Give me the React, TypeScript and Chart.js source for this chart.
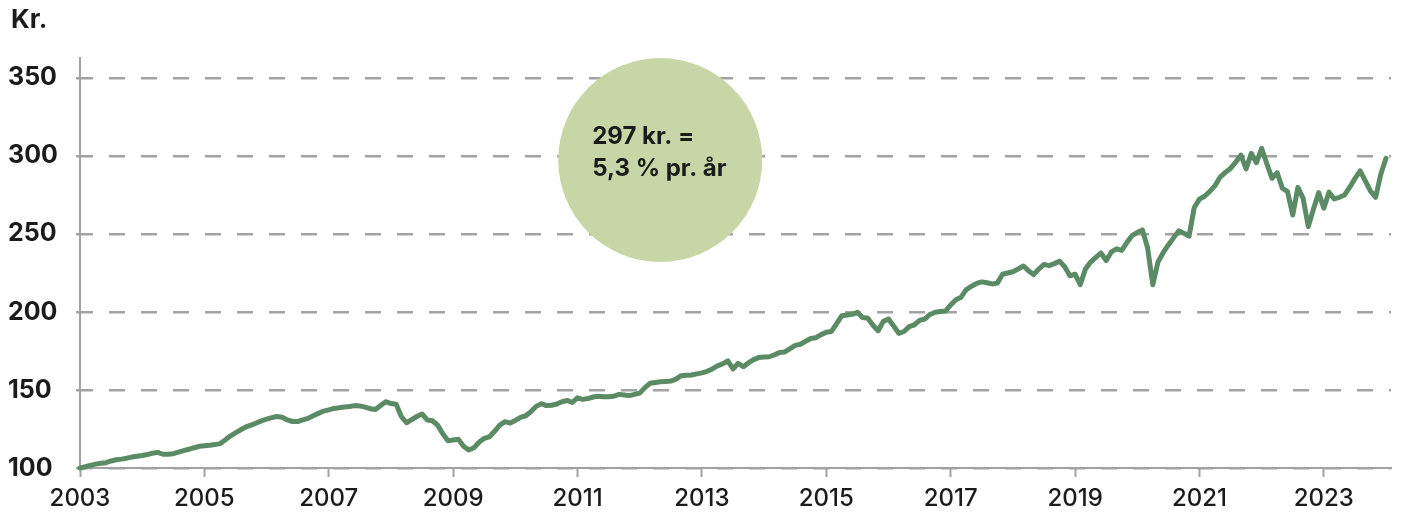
import React, { useEffect, useRef } from 'react';
import { Chart, registerables } from 'chart.js';

Chart.register(...registerables);

// Monthly index value (kr.), starting January 2003
const startYear = 2003;
const v2003 = [100, 100.8, 101.7, 102.5, 103, 103.4, 104.5, 105.3, 105.7, 106.3, 107, 107.5];
const v2004 = [108, 108.6, 109.5, 110, 108.8, 108.8, 109.2, 110.2, 111.1, 112, 113, 113.9];
const v2005 = [114.3, 114.6, 115, 115.6, 118, 120.5, 122.5, 124.5, 126.3, 127.5, 128.8, 130.2];
const v2006 = [131.3, 132.3, 133, 132.5, 130.8, 129.8, 129.8, 130.8, 131.8, 133.5, 135, 136.5];
const v2007 = [137.3, 138.2, 138.6, 139.1, 139.4, 140, 139.8, 139, 138, 137.5, 140, 142.5];
const v2008 = [141.3, 140.8, 133, 129, 131, 133, 134.6, 130.8, 130.3, 127.5, 122, 117.5];
const v2009 = [118, 118.4, 114, 111.5, 113, 116.5, 119, 120, 123.5, 127.5, 129.7, 128.8];
const v2010 = [130.5, 132.5, 133.5, 136, 139.5, 141.2, 140, 140.2, 141, 142.5, 143.3, 142];
const v2011 = [145, 144, 144.5, 145.5, 146, 145.7, 145.7, 146, 147.2, 146.8, 146.4, 147.2];
const v2012 = [148, 151.5, 154.3, 154.8, 155.3, 155.5, 155.7, 157, 159.2, 159.4, 159.6, 160.3];
const v2013 = [161, 162, 163.5, 165.5, 166.7, 168.6, 163.5, 167.1, 164.9, 167.5, 169.5, 170.9];
const v2014 = [171.1, 171.3, 172.5, 174, 174.4, 176.5, 178.6, 179.3, 181.2, 183, 183.5, 185.5];
const v2015 = [187, 187.5, 192.5, 197.6, 198.1, 198.5, 199.8, 196.4, 196, 191.5, 188, 194];
const v2016 = [195.5, 191, 186.3, 187.5, 190.6, 191.8, 194.6, 195.5, 198.4, 199.8, 200.3, 200.6];
const v2017 = [204.5, 207.8, 209.5, 214.3, 216.5, 218.3, 219.3, 218.7, 218, 218.5, 224.2, 225];
const v2018 = [225.8, 227.5, 229.5, 226.5, 224, 227.5, 230.5, 229.7, 231, 232.6, 229, 223.2];
const v2019 = [224.2, 217.5, 227.5, 232, 235, 237.8, 233, 238.5, 240.5, 239.5, 244.5, 249];
const v2020 = [251, 252.6, 241, 217.5, 232, 238, 243, 247.5, 252, 250.5, 248.7, 267];
const v2021 = [272.3, 274.2, 277.3, 281, 286.5, 289.5, 292, 296, 300.6, 291.7, 301.7, 295.7];
const v2022 = [304.9, 295, 285.7, 289.3, 279.3, 277.1, 262.2, 279.9, 272.9, 254.7, 266, 276.5];
const v2023 = [266.5, 276.8, 272.5, 273.5, 275, 280, 285.5, 290.5, 284, 277.5, 273.5, 288.5];
const v2024 = [298.5];

const values = [
  ...v2003, ...v2004, ...v2005, ...v2006, ...v2007, ...v2008, ...v2009,
  ...v2010, ...v2011, ...v2012, ...v2013, ...v2014, ...v2015, ...v2016,
  ...v2017, ...v2018, ...v2019, ...v2020, ...v2021, ...v2022, ...v2023, ...v2024,
];

const xTickYears = [2003, 2005, 2007, 2009, 2011, 2013, 2015, 2017, 2019, 2021, 2023];
const yTickValues = [100, 150, 200, 250, 300, 350];
const yAxisTitle = 'Kr.';
const calloutLines = ['297 kr. =', '5,3 % pr. år'];
const calloutCenter = { x: 2012.33, y: 297.4 };

const LINE = '#5b8b64';
const GRID = '#a2a2a2';
const TEXT = '#1b1b1b';
const CIRCLE = '#c8d5a6';
const FONT = 'Inter, "Noto Sans", sans-serif';

const calloutPlugin = {
  id: 'callout',
  beforeDatasetsDraw(chart: any) {
    const { ctx, scales } = chart;
    const cx = scales.x.getPixelForValue(calloutCenter.x);
    const cy = scales.y.getPixelForValue(calloutCenter.y);
    ctx.save();
    ctx.fillStyle = CIRCLE;
    ctx.beginPath();
    ctx.arc(cx, cy, 102, 0, Math.PI * 2);
    ctx.fill();
    ctx.fillStyle = TEXT;
    ctx.font = `700 24px ${FONT}`;
    ctx.textAlign = 'left';
    ctx.textBaseline = 'alphabetic';
    ctx.fillText(calloutLines[0], cx - 68, cy - 16);
    ctx.fillText(calloutLines[1], cx - 68, cy + 16);
    ctx.restore();
  },
  afterDraw(chart: any) {
    const { ctx } = chart;
    ctx.save();
    ctx.fillStyle = TEXT;
    ctx.font = `700 26px ${FONT}`;
    ctx.textAlign = 'left';
    ctx.textBaseline = 'alphabetic';
    ctx.fillText(yAxisTitle, 3, 20);
    ctx.restore();
  },
};

export default function App() {
  const ref = useRef<HTMLCanvasElement>(null);
  useEffect(() => {
    const points = values.map((v, i) => ({ x: startYear + i / 12, y: v }));
    const chart = new Chart(ref.current as HTMLCanvasElement, {
      type: 'line',
      data: {
        datasets: [
          {
            data: points,
            borderColor: LINE,
            borderWidth: 5,
            pointRadius: 0,
            tension: 0,
            clip: false,
            borderJoinStyle: 'round',
            borderCapStyle: 'round',
          } as any,
        ],
      },
      options: {
        responsive: false,
        animation: false,
        layout: { padding: { top: 50, right: 4, left: 0, bottom: 0 } },
        plugins: { legend: { display: false }, tooltip: { enabled: false } },
        scales: {
          x: {
            type: 'linear',
            min: 2003,
            max: 2024.08,
            afterBuildTicks: (s: any) => {
              s.ticks = xTickYears.map((v) => ({ value: v }));
            },
            afterFit: (s: any) => {
              s.height = 39;
            },
            grid: { drawOnChartArea: false, drawTicks: true, tickLength: 9, tickColor: GRID, tickWidth: 2 },
            border: { color: GRID, width: 2 },
            ticks: {
              color: TEXT,
              font: { family: FONT, size: 24, weight: '500' },
              padding: 7,
              maxRotation: 0,
              autoSkip: false,
              callback: (v: any) => String(v),
            },
          },
          y: {
            type: 'linear',
            min: 100,
            max: 362.8,
            afterBuildTicks: (s: any) => {
              s.ticks = yTickValues.map((v) => ({ value: v }));
            },
            afterFit: (s: any) => {
              s.width = 72;
            },
            grid: { color: GRID, lineWidth: 2.5, drawTicks: true, tickLength: 4, tickColor: GRID, tickWidth: 2.5 },
            border: { color: GRID, width: 2, dash: [16, 16], dashOffset: 4 },
            ticks: {
              color: TEXT,
              crossAlign: 'far',
              font: { family: FONT, size: 25, weight: '700' },
              callback: (v: any) => String(v),
            },
          },
        },
      } as any,
      plugins: [calloutPlugin],
    });
    return () => chart.destroy();
  }, []);
  return (
    <div style={{ width: 1387, height: 499 }}>
      <canvas ref={ref} width={1387} height={499} style={{ display: 'block' }} />
    </div>
  );
}
